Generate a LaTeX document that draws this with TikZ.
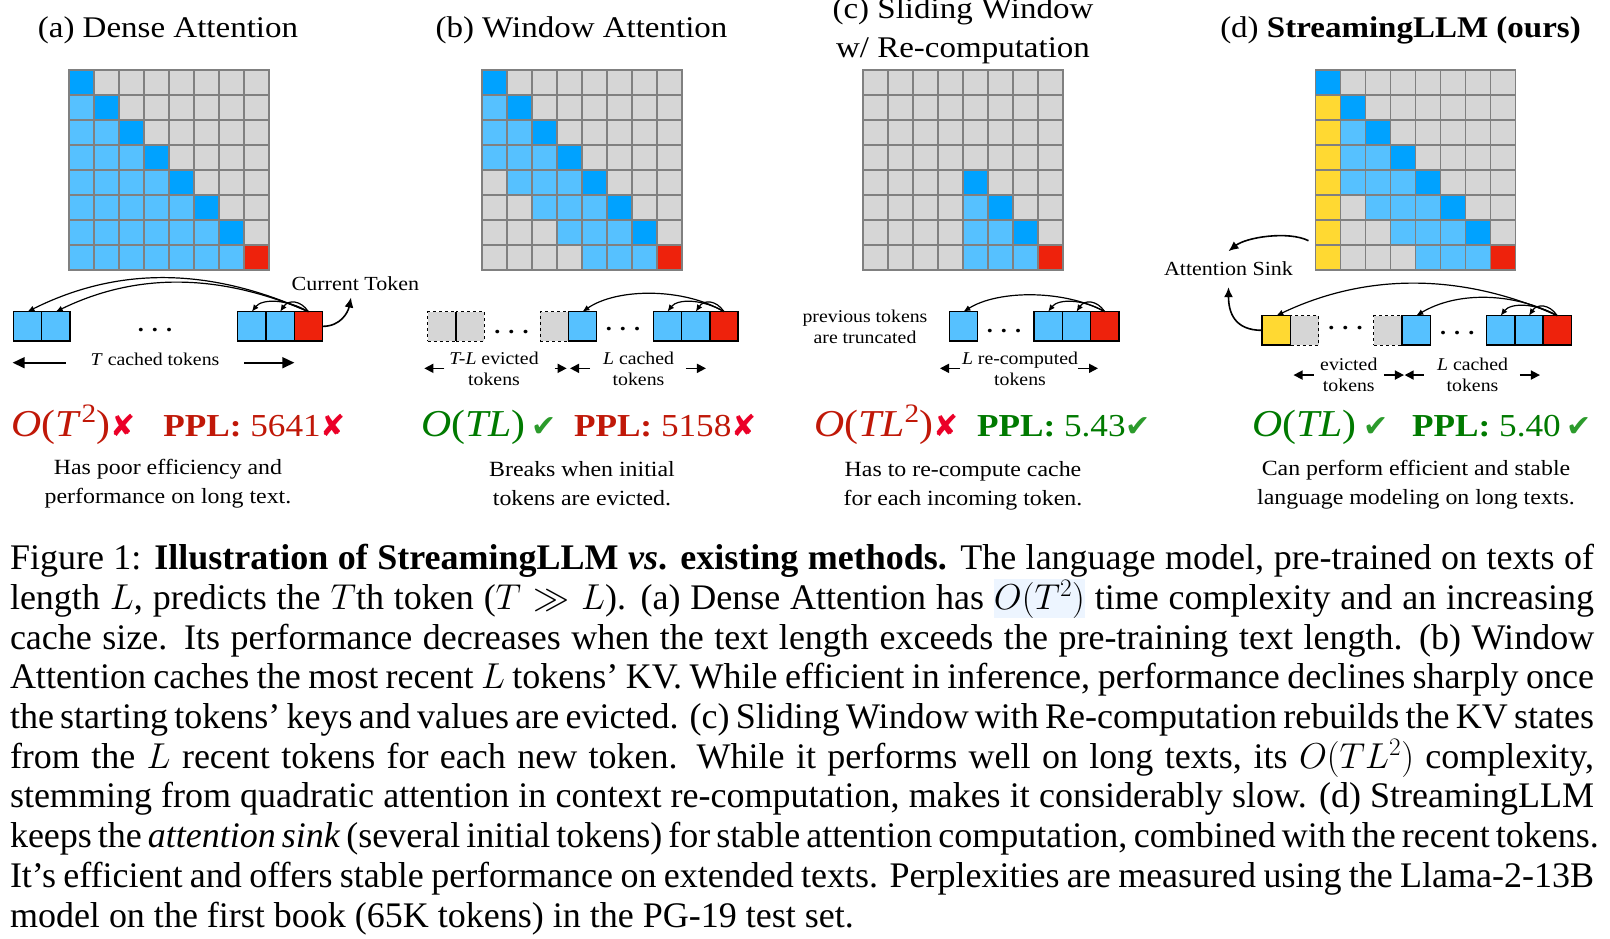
\RequirePackage{fix-cm}
\documentclass[tikz,border=0pt]{standalone}
\usepackage{fontspec}
\setmainfont{Liberation Serif}[FakeStretch=1.1]
\newfontfamily\capfont{Liberation Serif}
\newfontfamily\symfont{DejaVu Sans}
\usetikzlibrary{arrows.meta, positioning}
\usepackage{xcolor}

\definecolor{cellgray}{HTML}{D6D6D6}
\definecolor{gridgray}{HTML}{808080}
\definecolor{lblue}{HTML}{56C1FF}
\definecolor{dblue}{HTML}{00A2FF}
\definecolor{tokred}{HTML}{EE220C}
\definecolor{sinkyel}{HTML}{FFD932}
\definecolor{badred}{RGB}{192,24,8}
\definecolor{xred}{RGB}{235,0,40}
\definecolor{goodgreen}{RGB}{0,122,0}
\definecolor{ckgreen}{RGB}{44,155,44}
\definecolor{hlblue}{HTML}{EDF5FF}

\newcommand{\setfs}[2]{\fontsize{#1}{#2}\selectfont}
\newcommand{\nomark}{{\symfont\fontsize{30}{30}\selectfont\color{xred}✘}}
\newcommand{\okmark}{{\symfont\fontsize{30}{30}\selectfont\color{ckgreen}✔}}
% one cell of an attention map: row, column, colour
\newcommand{\attcell}[3]{\fill[#3] ({25*#2},{70+25*#1}) rectangle ++(25,25);}
\newcommand{\gridlines}{\foreach \k in {0,...,8}{%
  \draw[gridln] ({25*\k},70) -- ++(0,200);
  \draw[gridln] (0,{70+25*\k}) -- ++(200,0);}}
\newcommand{\capline}[1]{\makebox[1584pt][s]{#1}}
\newcommand{\hlmath}[1]{{\setlength{\fboxsep}{0pt}\colorbox{hlblue}{\rule[-9pt]{0pt}{39pt}#1}}}

\begin{document}
\begin{tikzpicture}[x=1pt, y=-1pt,
	every node/.style={inner sep=0pt, outer sep=0pt},
	gridln/.style={draw=gridgray, line width=1.8pt, line cap=rect},
	tok/.style={draw, line width=1.5pt, minimum width=28.3pt, minimum height=29.3pt},
	kv/.style={tok, fill=lblue},
	cur/.style={tok, fill=tokred},
	sinktok/.style={tok, fill=sinkyel},
	gone/.style={draw, dashed, line width=0.9pt, fill=cellgray, minimum width=28.3pt, minimum height=29.3pt},
	attn/.style={line width=1.2pt, -{Latex[length=7pt,width=6pt]}},
	curarr/.style={line width=1.6pt, -{Latex[length=10pt,width=9pt]}},
	span/.style={line width=1.6pt, -{Triangle[length=9pt,width=9pt]}},
	spanbig/.style={line width=1.6pt, -{Triangle[length=12pt,width=11pt]}},
	ttl/.style={font=\setfs{30}{39}, align=center},
	lbl/.style={font=\setfs{18}{21}, align=center},
	ellip/.style={font=\setfs{22}{22}\bfseries},
	cost/.style={font=\setfs{38}{40}},
	ppl/.style={font=\setfs{32}{40}},
	desc/.style={font=\setfs{21.7}{29}, align=center},
	capt/.style={font=\capfont\setfs{36}{39.7}, align=left}]

	\useasboundingbox (0,0) rectangle (1610,938);
	\fill[white] (0,0) rectangle (1610,938);

	% (a) dense attention
	\begin{scope}[xshift=69pt]
		\node[ttl, anchor=base] (atitle) at (99,37) {(a) Dense Attention};

		\fill[cellgray] (0,70) rectangle ++(200,200);
		\foreach \i in {1,...,7}{\foreach \j in {0,...,6}{\ifnum\j<\i\relax\attcell{\i}{\j}{lblue}\fi}}
		\foreach \i in {0,...,6}{\attcell{\i}{\i}{dblue}}
		\attcell{7}{7}{tokred}
		\gridlines

		\node[kv, anchor=north west] (a1) at (-55.7,311.7) {};
		\node[kv, right=0pt of a1] (a2) {};
		\node[kv, anchor=north west] (a3) at (168.7,311.7) {};
		\node[kv, right=0pt of a3] (a4) {};
		\node[cur, right=0pt of a4] (a5) {};
		\node[ellip, anchor=base] (adots) at (86,331) {. . .};

		\draw[attn] (a5.north) .. controls +(-100,-45) and +(90,-45) .. (a1.north);
		\draw[attn] (a5.north) .. controls +(-90,-39) and +(80,-39) .. (a2.north);
		\draw[attn] (a5.north) .. controls +(-22,-13) and +(10,-13) .. (a3.north);
		\draw[attn] (a5.north) .. controls +(-8,-12) and +(8,-12) .. (a4.north);

		\node[lbl, font=\setfs{20}{24}, anchor=base] (curlab) at (286.4,290) {Current Token};
		\coordinate (curtip) at (282,297.5);
		\draw[curarr] (a5.east) .. controls +(18,0) and +(-3,15) .. (curtip);

		\node[lbl, anchor=base] (tcache) at (86,365) {\textit{T} cached tokens};
		\draw[spanbig] ([xshift=-25pt]tcache.mid west) -- ++(-53,0);
		\draw[spanbig] ([xshift=25pt]tcache.mid east) -- ++(50,0);

		\node[cost, text=badred, anchor=base west] (acost) at (-57.3,436) {\textit{O}(\textit{T}\textsuperscript{2})\nomark};
		\node[ppl, text=badred, anchor=base west] (appl) at (94.3,436) {\textbf{PPL:} 5641\nomark};
		\node[desc, anchor=base] (adesc) at (99,503.5) {Has poor efficiency and\\performance on long text.};
	\end{scope}

	% (b) window attention
	\begin{scope}[xshift=482pt]
		\node[ttl, anchor=base] (btitle) at (99.5,37) {(b) Window Attention};

		\fill[cellgray] (0,70) rectangle ++(200,200);
		\foreach \i in {1,...,7}{\foreach \s in {1,2,3}{%
			\pgfmathtruncatemacro{\j}{\i-\s}\ifnum\j>-1\relax\attcell{\i}{\j}{lblue}\fi}}
		\foreach \i in {0,...,6}{\attcell{\i}{\i}{dblue}}
		\attcell{7}{7}{tokred}
		\gridlines

		\node[gone, anchor=north west] (b1) at (-54.3,311.7) {};
		\node[gone, right=0pt of b1] (b2) {};
		\draw[line width=1.5pt] (b1.north east) -- (b1.south east);
		\node[gone, anchor=north west] (b3) at (58,311.7) {};
		\node[kv, right=0pt of b3] (b4) {};
		\node[kv, anchor=north west] (b5) at (171.3,311.7) {};
		\node[kv, right=0pt of b5] (b6) {};
		\node[cur, right=0pt of b6] (b7) {};
		\node[ellip, anchor=base] (bdots1) at (29.5,333) {. . .};
		\node[ellip, anchor=base] (bdots2) at (141,330) {. . .};

		\draw[attn] (b7.north) .. controls +(-40,-24) and +(35,-24) .. (b4.north);
		\draw[attn] (b7.north) .. controls +(-22,-13) and +(10,-13) .. (b5.north);
		\draw[attn] (b7.north) .. controls +(-8,-12) and +(8,-12) .. (b6.north);

		\node[lbl, anchor=base] (bev) at (12,385) {\textit{T-L} evicted\\tokens};
		\draw[span] ([xshift=-5pt]bev.west) -- ++(-20,0);
		\draw[span] ([xshift=16pt]bev.east) -- ++(12,0);
		\node[lbl, anchor=base] (bca) at (156.5,385) {\textit{L} cached\\tokens};
		\draw[span] ([xshift=-13pt]bca.west) -- ++(-20,0);
		\draw[span] ([xshift=12pt]bca.east) -- ++(20,0);

		\node[cost, text=goodgreen, anchor=base west] (bcost) at (-61,436) {\textit{O}(\textit{TL})\,\okmark};
		\node[ppl, text=badred, anchor=base west] (bppl) at (92,436) {\textbf{PPL:} 5158\nomark};
		\node[desc, anchor=base] (bdesc) at (100,505) {Breaks when initial\\tokens are evicted.};
	\end{scope}

	% (c) sliding window with re-computation
	\begin{scope}[xshift=863pt]
		\node[ttl, anchor=base] (ctitle) at (100,57) {(c) Sliding Window\\w/ Re-computation};

		\fill[cellgray] (0,70) rectangle ++(200,200);
		\foreach \i/\j in {5/4,6/4,6/5,7/4,7/5,7/6}{\attcell{\i}{\j}{lblue}}
		\foreach \i in {4,5,6}{\attcell{\i}{\i}{dblue}}
		\attcell{7}{7}{tokred}
		\gridlines

		\node[lbl, anchor=base] (prevlab) at (2,343.3) {previous tokens\\are truncated};
		\node[kv, anchor=north west] (c1) at (86.3,311.7) {};
		\node[kv, anchor=north west] (c2) at (171,311.7) {};
		\node[kv, right=0pt of c2] (c3) {};
		\node[cur, right=0pt of c3] (c4) {};
		\node[ellip, anchor=base] (cdots) at (141,332) {. . .};

		\draw[attn] (c4.north) .. controls +(-40,-22) and +(35,-22) .. (c1.north);
		\draw[attn] (c4.north) .. controls +(-22,-13) and +(10,-13) .. (c2.north);
		\draw[attn] (c4.north) .. controls +(-8,-12) and +(8,-12) .. (c3.north);

		\node[lbl, anchor=base] (crc) at (157,385) {\textit{L} re-computed\\tokens};
		\draw[span] ([xshift=-2pt]crc.west) -- ++(-20,0);
		\draw[span] (crc.east) -- ++(20,0);

		\node[cost, text=badred, anchor=base west] (ccost) at (-49,436) {\textit{O}(\textit{TL}\textsuperscript{2})\nomark};
		\node[ppl, text=goodgreen, anchor=base west] (cppl) at (114,436) {\textbf{PPL:} 5.43\okmark};
		\node[desc, anchor=base] (cdesc) at (100,505) {Has to re-compute cache\\for each incoming token.};
	\end{scope}

	% (d) StreamingLLM
	\begin{scope}[xshift=1315.5pt]
		\node[ttl, anchor=base] (dtitle) at (85,37) {(d) \textbf{StreamingLLM (ours)}};

		\fill[cellgray] (0,70) rectangle ++(200,200);
		\foreach \i in {1,...,7}{\attcell{\i}{0}{sinkyel}\foreach \s in {1,2,3}{%
			\pgfmathtruncatemacro{\j}{\i-\s}\ifnum\j>0\relax\attcell{\i}{\j}{lblue}\fi}}
		\foreach \i in {0,...,6}{\attcell{\i}{\i}{dblue}}
		\attcell{7}{7}{tokred}
		\gridlines

		\node[sinktok, anchor=north west] (d1) at (-53.3,315.7) {};
		\node[gone, right=0pt of d1] (d2) {};
		\node[gone, anchor=north west] (d3) at (58.3,315.7) {};
		\node[kv, right=0pt of d3] (d4) {};
		\node[kv, anchor=north west] (d5) at (171,315.7) {};
		\node[kv, right=0pt of d5] (d6) {};
		\node[cur, right=0pt of d6] (d7) {};
		\node[ellip, anchor=base] (ddots1) at (30,329.7) {. . .};
		\node[ellip, anchor=base] (ddots2) at (141.7,334.3) {. . .};

		\draw[attn] (d7.north) .. controls +(-95,-43) and +(90,-43) .. (d1.north);
		\draw[attn] (d7.north) .. controls +(-45,-24) and +(40,-24) .. (d4.north);
		\draw[attn] (d7.north) .. controls +(-22,-13) and +(10,-13) .. (d5.north);
		\draw[attn] (d7.north) .. controls +(-8,-12) and +(8,-12) .. (d6.north);

		\node[lbl, font=\setfs{20}{24}, anchor=base] (sinklab) at (-87,275) {Attention Sink};
		\coordinate (gridedge) at (-7,240.7);
		\draw[curarr] (gridedge) .. controls +(-20,-10) and +(18,-14) .. ([yshift=10pt]sinklab.north);
		\draw[curarr] (d1.west) .. controls +(-28,0) and +(0,25) .. ([yshift=-12pt]sinklab.south);

		\node[lbl, anchor=base] (dev) at (33.3,391.7) {evicted\\tokens};
		\draw[span] ([xshift=-6.7pt]dev.west) -- ++(-20,0);
		\draw[span] ([xshift=6.6pt]dev.east) -- ++(20,0);
		\node[lbl, anchor=base] (dca) at (157,391.7) {\textit{L} cached\\tokens};
		\draw[span] ([xshift=-13.4pt]dca.west) -- ++(-19,0);
		\draw[span] ([xshift=12pt]dca.east) -- ++(20,0);

		\node[cost, text=goodgreen, anchor=base west] (dcost) at (-63.3,436) {\textit{O}(\textit{TL})\,\okmark};
		\node[ppl, text=goodgreen, anchor=base west] (dppl) at (96.7,436) {\textbf{PPL:} 5.40\,\okmark};
		\node[desc, anchor=base] (ddesc) at (100.5,504) {Can perform efficient and stable\\language modeling on long texts.};
	\end{scope}

	% caption
	\node[capt, anchor=base west] (caption) at (10,927) {%
		\capline{Figure 1: \textbf{Illustration of StreamingLLM \textit{vs}. existing methods.} The language model, pre-trained on texts of}\\
		\capline{length $L$, predicts the $T$th token ($T \gg L$). (a) Dense Attention has \hlmath{$O(T^2)$} time complexity and an increasing}\\
		\capline{cache size. Its performance decreases when the text length exceeds the pre-training text length. (b) Window}\\
		\capline{Attention caches the most recent $L$ tokens’ KV. While efficient in inference, performance declines sharply once}\\
		\capline{the starting tokens’ keys and values are evicted. (c) Sliding Window with Re-computation rebuilds the KV states}\\
		\capline{from the $L$ recent tokens for each new token. While it performs well on long texts, its $O(TL^2)$ complexity,}\\
		\capline{stemming from quadratic attention in context re-computation, makes it considerably slow. (d) StreamingLLM}\\
		\capline{keeps the \textit{attention sink} (several initial tokens) for stable attention computation, combined with the recent tokens.}\\
		\capline{It’s efficient and offers stable performance on extended texts. Perplexities are measured using the Llama-2-13B}\\
		model on the first book (65K tokens) in the PG-19 test set.};
\end{tikzpicture}
\end{document}
